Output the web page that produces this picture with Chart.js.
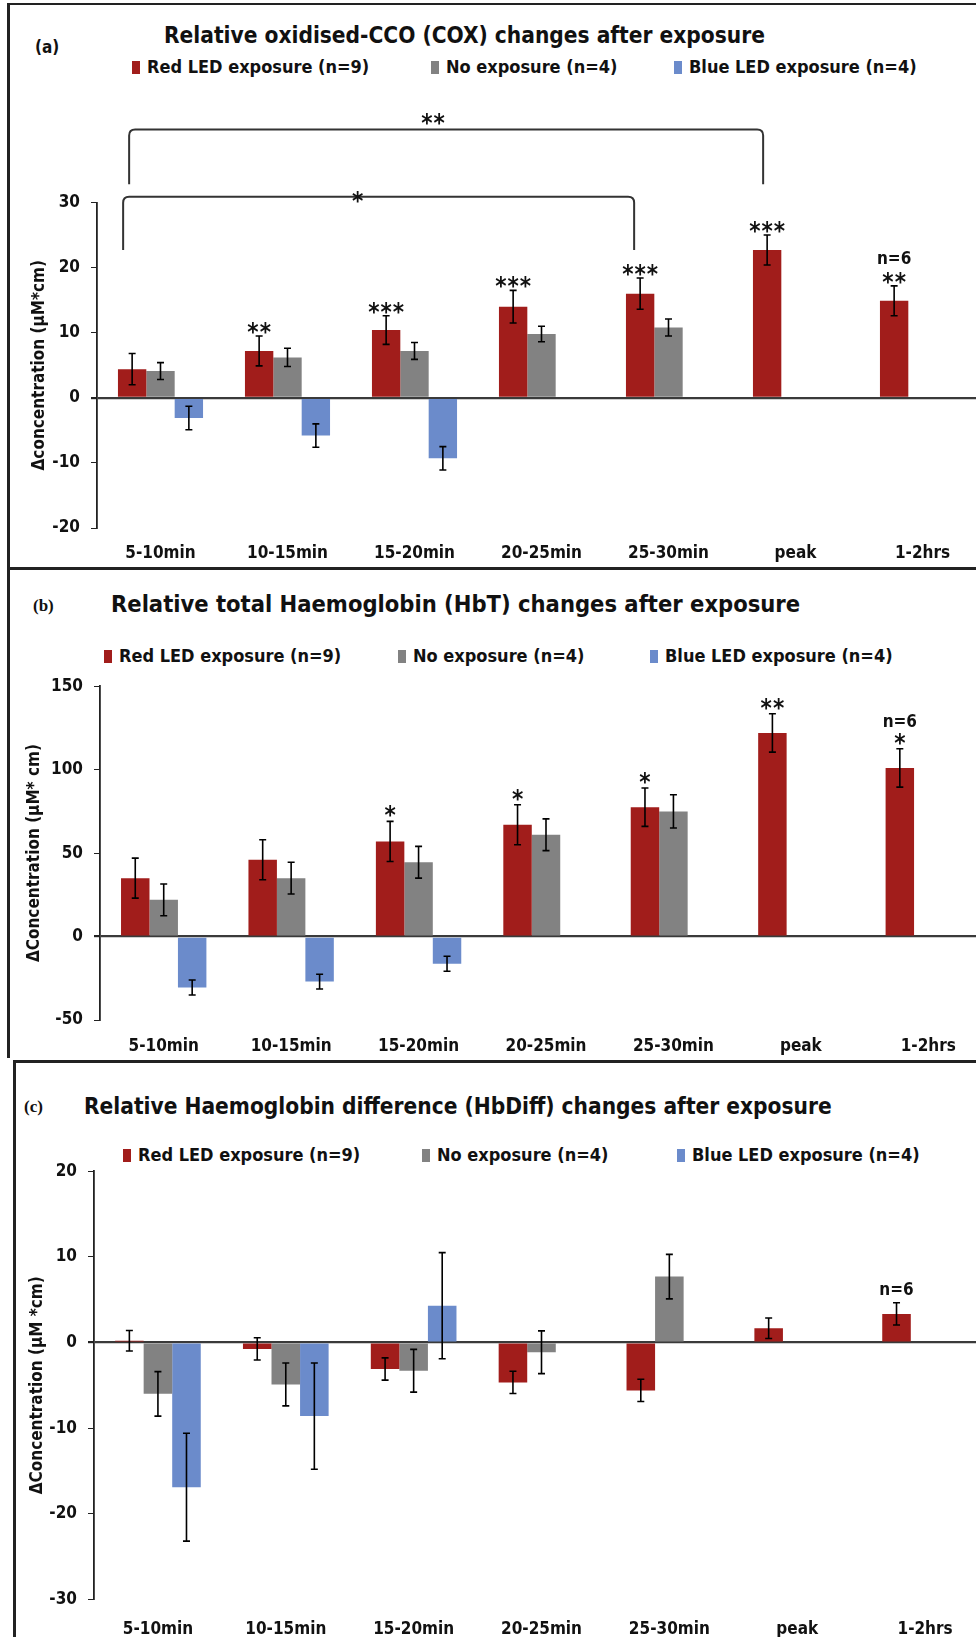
<!DOCTYPE html>
<html>
<head>
<meta charset="utf-8">
<title>COX, HbT and HbDiff changes after LED exposure</title>
<script src="https://cdn.jsdelivr.net/npm/chart.js@4.4.1/dist/chart.umd.min.js"></script>
<style>
  html, body { margin: 0; padding: 0; background: #fff; overflow: hidden; }
  #fig {
    position: relative; width: 976px; height: 1637px; overflow: hidden; background: #fff;
    font-family: 'Liberation Sans Narrow', 'DejaVu Sans Condensed', 'Open Sans', sans-serif;
    font-weight: bold; color: #111;
  }
  .line { position: absolute; background: #222; }
  .txt { position: absolute; white-space: nowrap; line-height: 1; transform: translateY(-50%); }
  .tag { font-size: 17px; }
  .serif { font-family: 'Liberation Serif', serif; }
  .title { font-size: 22.5px; }
  .legend-item { position: absolute; font-size: 18px; white-space: nowrap; line-height: 1; transform: translateY(-50%); }
  .swatch { display: inline-block; width: 8px; height: 13px; margin-right: 7px; vertical-align: -1px; }
  canvas { position: absolute; left: 0; }
</style>
</head>
<body>
<div id="fig">
  <!-- frame -->
  <div class="line" style="left:8px;top:3px;width:968px;height:2px;"></div>
  <div class="line" style="left:7px;top:3px;width:3px;height:1055px;"></div>
  <div class="line" style="left:7px;top:567px;width:969px;height:3px;"></div>
  <div class="line" style="left:13px;top:1060px;width:963px;height:3px;"></div>
  <div class="line" style="left:13px;top:1060px;width:3px;height:577px;"></div>

  <!-- titles -->
  <div class="txt tag" style="left:35px;top:47px;">(a)</div>
  <div class="txt title" style="left:164px;top:35px;">Relative oxidised-CCO (COX) changes after exposure</div>
  <div class="txt tag serif" style="left:33px;top:605px;">(b)</div>
  <div class="txt title" style="left:111px;top:605px;font-size:23.5px;">Relative total Haemoglobin (HbT) changes after exposure</div>
  <div class="txt tag serif" style="left:24px;top:1106px;">(c)</div>
  <div class="txt title" style="left:84px;top:1106px;">Relative Haemoglobin difference (HbDiff) changes after exposure</div>

  <div id="legendA"></div>
  <div id="legendB"></div>
  <div id="legendC"></div>

  <canvas id="coxChart" width="1000" height="480" style="top:90px;"></canvas>
  <canvas id="hbtChart" width="1000" height="392" style="top:665px;"></canvas>
  <canvas id="hbdChart" width="1000" height="497" style="top:1140px;"></canvas>
</div>

<script>
const categories = ['5-10min', '10-15min', '15-20min', '20-25min', '25-30min', 'peak', '1-2hrs'];
const seriesNames = ['Red LED exposure (n=9)', 'No exposure (n=4)', 'Blue LED exposure (n=4)'];
const seriesColors = ['#A11D1B', '#828282', '#6B8BCB'];

// (a) oxidised-CCO
const coxRed = [4.4, 7.2, 10.4, 14.0, 16.0, 22.7, 14.9];
const coxRedErr = [2.4, 2.3, 2.2, 2.5, 2.4, 2.3, 2.3];
const coxNone = [4.1, 6.2, 7.2, 9.8, 10.8, null, null];
const coxNoneErr = [1.3, 1.4, 1.3, 1.2, 1.3, null, null];
const coxBlue = [-3.1, -5.8, -9.3, null, null, null, null];
const coxBlueErr = [1.8, 1.8, 1.8, null, null, null, null];
const coxStars = ['', '**', '***', '***', '***', '***', '**'];
const coxTicks = [-20, 30, 10];

// brackets: from / to category (red bars), height, drop ends, label
const coxBrackets = [
    { from: 0, to: 5, top: 41.2, end: 32.8, label: '**' },
    { from: 0, to: 4, top: 30.9, end: 22.7, label: '*' }
];

// (b) total haemoglobin
const hbtRed = [35, 46, 57, 67, 77.5, 122, 101];
const hbtRedErr = [12, 12, 12, 12, 11.5, 11.5, 11.5];
const hbtNone = [22, 35, 44.5, 61, 75, null, null];
const hbtNoneErr = [9.5, 9.5, 9.5, 9.5, 10, null, null];
const hbtBlue = [-30.5, -27, -16.3, null, null, null, null];
const hbtBlueErr = [4.5, 4.4, 4.5, null, null, null, null];
const hbtStars = ['', '', '*', '*', '*', '**', '*'];
const hbtTicks = [-50, 150, 50];

// (c) haemoglobin difference
const hbdRed = [0.2, -0.75, -3.1, -4.66, -5.6, 1.67, 3.34];
const hbdRedErr = [1.2, 1.3, 1.3, 1.3, 1.3, 1.2, 1.3];
const hbdNone = [-6.0, -4.9, -3.3, -1.14, 7.7, null, null];
const hbdNoneErr = [2.6, 2.5, 2.5, 2.5, 2.6, null, null];
const hbdBlue = [-16.9, -8.6, 4.3, null, null, null, null];
const hbdBlueErr = [6.3, 6.2, 6.2, null, null, null, null];
const hbdStars = ['', '', '', '', '', '', ''];
const hbdTicks = [-30, 20, 10];

const FONT = "'Liberation Sans Narrow', 'DejaVu Sans Condensed', 'Open Sans', sans-serif";

function buildLegend(id, xs, y) {
    const box = document.getElementById(id);
    seriesNames.forEach((name, i) => {
        const item = document.createElement('div');
        item.className = 'legend-item';
        item.style.left = xs[i] + 'px';
        item.style.top = y + 'px';
        item.innerHTML = `<span class="swatch" style="background:${seriesColors[i]}"></span>${name}`;
        box.appendChild(item);
    });
}

buildLegend('legendA', [132, 431, 674], 67);
buildLegend('legendB', [104, 398, 650], 656);
buildLegend('legendC', [123, 422, 677], 1155);

// error bars drawn from the bar elements and the y scale
const errorBars = {
    id: 'errorBars',
    afterDatasetsDraw(chart) {
        const { ctx } = chart;
        const y = chart.scales.y;
        ctx.save();
        ctx.strokeStyle = '#000';
        ctx.lineWidth = 1.6;
        chart.data.datasets.forEach((ds, i) => {
            chart.getDatasetMeta(i).data.forEach((bar, j) => {
                const v = ds.data[j];
                const e = ds.errors[j];
                if (v == null || e == null) return;
                const hi = y.getPixelForValue(v + e);
                const lo = y.getPixelForValue(v - e);
                ctx.beginPath();
                ctx.moveTo(bar.x, hi); ctx.lineTo(bar.x, lo);
                ctx.moveTo(bar.x - 3.5, hi); ctx.lineTo(bar.x + 3.5, hi);
                ctx.moveTo(bar.x - 3.5, lo); ctx.lineTo(bar.x + 3.5, lo);
                ctx.stroke();
            });
        });
        ctx.restore();
    }
};

// significance stars, n=6 note and brackets
const marks = {
    id: 'marks',
    afterDatasetsDraw(chart, args, opts) {
        const { ctx } = chart;
        const y = chart.scales.y;
        const red = chart.data.datasets[0];
        const bars = chart.getDatasetMeta(0).data;
        ctx.save();
        ctx.fillStyle = '#111';
        ctx.textAlign = 'center';
        ctx.textBaseline = 'alphabetic';

        (opts.stars || []).forEach((s, j) => {
            if (!s) return;
            const top = y.getPixelForValue(red.data[j] + red.errors[j]);
            ctx.font = `bold 24px ${FONT}`;
            ctx.letterSpacing = '1px';
            ctx.fillText(s, bars[j].x + 0.5, top + opts.starShift);
        });

        if (opts.nLabel) {
            const j = opts.nAt;
            const top = y.getPixelForValue(red.data[j] + red.errors[j]);
            ctx.font = `bold 17px ${FONT}`;
            ctx.letterSpacing = '0px';
            ctx.fillText(opts.nLabel, bars[j].x, top - opts.nGap);
        }

        ctx.strokeStyle = '#333';
        ctx.lineWidth = 2;
        (opts.brackets || []).forEach((b, k) => {
            const st = opts.bracketStyle[k];
            const x1 = bars[b.from].x + st.dx[0];
            const x2 = bars[b.to].x + st.dx[1];
            const yt = y.getPixelForValue(b.top);
            const ye = y.getPixelForValue(b.end);
            const r = 6;
            ctx.beginPath();
            ctx.moveTo(x1, ye);
            ctx.lineTo(x1, yt + r);
            ctx.quadraticCurveTo(x1, yt, x1 + r, yt);
            ctx.lineTo(x2 - r, yt);
            ctx.quadraticCurveTo(x2, yt, x2, yt + r);
            ctx.lineTo(x2, ye);
            ctx.stroke();
            ctx.font = `bold 24px ${FONT}`;
            ctx.letterSpacing = '1px';
            ctx.fillText(b.label, x1 + (x2 - x1) * st.at, yt + st.dy);
        });
        ctx.restore();
    }
};

function makePanel(p) {
    const datasets = p.values.map((vals, i) => ({
        label: seriesNames[i],
        data: vals,
        errors: p.errors[i],
        backgroundColor: seriesColors[i],
        borderWidth: 0,
        barPercentage: 1,
        categoryPercentage: 0.67
    }));
    return new Chart(document.getElementById(p.canvas), {
        type: 'bar',
        data: { labels: categories, datasets },
        options: {
            responsive: false,
            animation: false,
            layout: { padding: { left: 0, top: p.padTop, right: p.padRight, bottom: 0 } },
            plugins: {
                legend: { display: false },
                tooltip: { enabled: false },
                marks: {
                    stars: p.stars, starShift: p.starShift, nLabel: p.nLabel, nAt: 6, nGap: p.nGap,
                    brackets: p.brackets, bracketStyle: p.bracketStyle
                }
            },
            scales: {
                x: {
                    grid: { display: false },
                    border: { display: false },
                    ticks: { color: '#111', padding: p.labelPad, font: { family: FONT, size: 17, weight: 'bold' } },
                    afterFit: s => { s.height = p.xHeight; }
                },
                y: {
                    min: p.ticks[0],
                    max: p.ticks[1],
                    ticks: { stepSize: p.ticks[2], color: '#111', padding: 11, font: { family: FONT, size: 17, weight: 'bold' } },
                    grid: {
                        color: c => c.tick && c.tick.value === 0 ? '#3a3a3a' : 'rgba(0,0,0,0)',
                        lineWidth: c => c.tick && c.tick.value === 0 ? 2.2 : 1,
                        tickColor: '#222',
                        tickLength: 6
                    },
                    border: { display: true, color: '#222', width: 1.8 },
                    title: {
                        display: true,
                        text: p.yTitle,
                        color: '#111',
                        font: { family: FONT, size: 17, weight: 'bold' },
                        padding: { top: p.titleX - 10, bottom: 0 }
                    },
                    afterFit: s => { s.width = p.axisX; }
                }
            }
        },
        plugins: [errorBars, marks]
    });
}

makePanel({
    canvas: 'coxChart',
    values: [coxRed, coxNone, coxBlue],
    errors: [coxRedErr, coxNoneErr, coxBlueErr],
    ticks: coxTicks,
    yTitle: 'Δconcentration (μM*cm)',
    axisX: 97, padTop: 112.5, padRight: 14, xHeight: 42, labelPad: 7, titleX: 39,
    stars: coxStars, starShift: 4, nLabel: 'n=6', nGap: 22, brackets: coxBrackets,
    bracketStyle: [{ dx: [-3, -4], at: 0.48, dy: 1 }, { dx: [-9, -6], at: 0.46, dy: 12 }]
});

makePanel({
    canvas: 'hbtChart',
    values: [hbtRed, hbtNone, hbtBlue],
    errors: [hbtRedErr, hbtNoneErr, hbtBlueErr],
    ticks: hbtTicks,
    yTitle: 'ΔConcentration (μM* cm)',
    axisX: 100, padTop: 20.8, padRight: 8, xHeight: 37, labelPad: 8, titleX: 34,
    stars: hbtStars, starShift: 2, nLabel: 'n=6', nGap: 22
});

makePanel({
    canvas: 'hbdChart',
    values: [hbdRed, hbdNone, hbdBlue],
    errors: [hbdRedErr, hbdNoneErr, hbdBlueErr],
    ticks: hbdTicks,
    yTitle: 'ΔConcentration (μM *cm)',
    axisX: 94, padTop: 31.3, padRight: 11, xHeight: 37.7, labelPad: 12, titleX: 37,
    stars: hbdStars, starShift: 2, nLabel: 'n=6', nGap: 8
});
</script>
</body>
</html>
